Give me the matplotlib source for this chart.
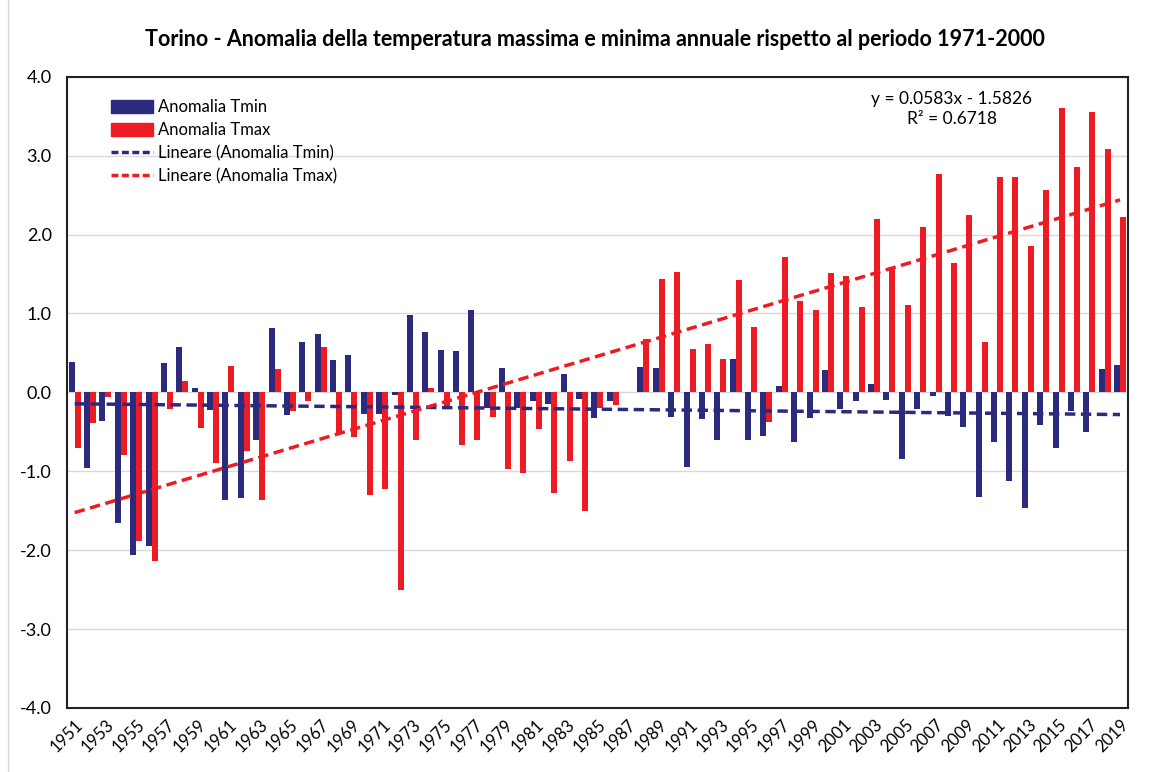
import numpy as np
import matplotlib
matplotlib.use("Agg")
import matplotlib.pyplot as plt
from matplotlib.patches import Patch
from matplotlib.lines import Line2D

plt.rcParams['font.family'] = ['Lato', 'DejaVu Sans']

# Data (anomalies in degC vs 1971-2000), 1987 has no value
years = list(range(1951, 2020))
tmin = [0.38, -0.96, -0.36, -1.66, -2.06, -1.95, 0.37, 0.58, 0.06, -0.22,
        -1.37, -1.34, -0.60, 0.82, -0.29, 0.64, 0.74, 0.41, 0.47, -0.27,
        -0.27, -0.03, 0.98, 0.77, 0.54, 0.52, 1.04, -0.20, 0.31, -0.20,
        -0.11, -0.15, 0.23, -0.08, -0.32, -0.11, np.nan, 0.32, 0.31, -0.31,
        -0.95, -0.34, -0.61, 0.42, -0.60, -0.55, 0.08, -0.63, -0.33, 0.28,
        -0.21, -0.11, 0.11, -0.10, -0.84, -0.21, -0.05, -0.30, -0.44, -1.33,
        -0.63, -1.12, -1.47, -0.41, -0.70, -0.23, -0.50, 0.30, 0.35]
tmax = [-0.70, -0.39, -0.06, -0.80, -1.89, -2.14, -0.21, 0.14, -0.45, -0.90,
        0.34, -0.74, -1.37, 0.29, -0.23, -0.11, 0.57, -0.52, -0.57, -1.30,
        -1.23, -2.50, -0.60, 0.06, -0.21, -0.67, -0.60, -0.31, -0.97, -1.02,
        -0.46, -1.28, -0.87, -1.51, -0.20, -0.16, np.nan, 0.68, 1.44, 1.53,
        0.55, 0.61, 0.42, 1.42, 0.83, -0.38, 1.72, 1.16, 1.05, 1.51,
        1.47, 1.08, 2.20, 1.58, 1.11, 2.10, 2.77, 1.64, 2.25, 0.64,
        2.73, 2.73, 1.86, 2.57, 3.60, 2.86, 3.56, 3.08, 2.22]
tmax_slope = 0.0583
tmax_intercept = -1.5826
tmax_r2 = 0.6718

navy = '#2B2A7C'
red = '#ED1C24'

x = np.arange(1, len(years) + 1)
tmin_arr = np.array(tmin, dtype=float)
tmax_arr = np.array(tmax, dtype=float)

fig = plt.figure(figsize=(11.65, 7.72), dpi=100)
ax = fig.add_axes([0.0575, 0.083, 0.9105, 0.8175])

# faint chart-area border on the left
fig.add_artist(Line2D([0.007, 0.007], [0.0, 1.0], transform=fig.transFigure,
                      color='#D9D9D9', lw=1))

w = 0.39
ax.bar(x - w / 2, np.nan_to_num(tmin_arr), width=w, color=navy, zorder=2)
ax.bar(x + w / 2, np.nan_to_num(tmax_arr), width=w, color=red, zorder=2)

# linear trends
ok = ~np.isnan(tmin_arr)
p_min = np.polyfit(x[ok], tmin_arr[ok], 1)
ax.plot(x, np.polyval(p_min, x), color=navy, lw=2.5, dashes=(3, 1.6), zorder=3)
ax.plot(x, tmax_slope * x + tmax_intercept, color=red, lw=2.5, dashes=(3, 1.6), zorder=3)

ax.text(0.834, 0.978, f"y = {tmax_slope}x - {abs(tmax_intercept)}\nR² = {tmax_r2}",
        transform=ax.transAxes, ha='center', va='top', fontsize=12.5, linespacing=1.3)

ax.set_xlim(0.5, len(years) + 0.5)
ax.set_ylim(-4, 4)
ax.set_yticks(np.arange(-4, 5, 1))
ax.set_yticklabels([f"{v:.1f}" for v in np.arange(-4, 5, 1)], fontsize=13)
ax.set_xticks(x[::2])
ax.set_xticklabels([str(y) for y in years[::2]], rotation=45, ha='right',
                   rotation_mode='anchor', fontsize=12)
ax.tick_params(axis='y', length=0, pad=11)
ax.tick_params(axis='x', length=0, pad=6)
ax.grid(axis='y', color='#D9D9D9', lw=1, zorder=0)
for s in ax.spines.values():
    s.set_color('#222222')
    s.set_linewidth(1.5)

handles = [Patch(color=navy, label='Anomalia Tmin'),
           Patch(color=red, label='Anomalia Tmax'),
           Line2D([], [], color=navy, lw=2.5, dashes=(2, 1), label='Lineare (Anomalia Tmin)'),
           Line2D([], [], color=red, lw=2.5, dashes=(2, 1), label='Lineare (Anomalia Tmax)')]
ax.legend(handles=handles, loc='upper left', bbox_to_anchor=(0.035, 0.975), frameon=False,
          fontsize=12, handlelength=2.55, handleheight=0.9, handletextpad=0.3,
          labelspacing=0.42, borderaxespad=0)

fig.suptitle('Torino - Anomalia della temperatura massima e minima annuale rispetto al periodo 1971-2000',
             x=0.511, y=0.962, fontsize=15.5, fontweight='bold')

fig.savefig('out.png', dpi=100)
